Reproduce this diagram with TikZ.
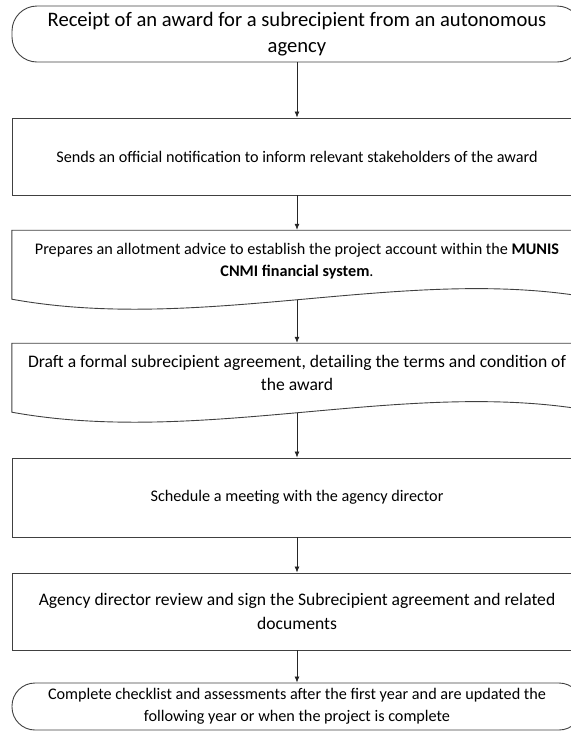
\documentclass[tikz,border=0pt]{standalone}
\usepackage{fontspec}
\setmainfont{Carlito}
\usetikzlibrary{arrows.meta}

\begin{document}
\begin{tikzpicture}[x=1pt, y=-1pt]
\tikzset{every node/.style={align=center, inner sep=0pt}}
\tikzset{shapeline/.style={draw=black!75, line width=0.9pt}}
\tikzset{term/.style={shapeline, rounded corners=25pt, minimum width=570pt}}
\tikzset{procbox/.style={shapeline, minimum width=570pt}}
\tikzset{docbox/.style={minimum width=570pt}}
\tikzset{smalltext/.style={font=\fontsize{16.2}{22}\selectfont}}
\tikzset{bigtext/.style={font=\fontsize{17.6}{23.5}\selectfont}}
\tikzset{arr/.style={draw=black!85, line width=0.8pt, -{Latex[length=6pt, width=5pt]}}}
\useasboundingbox (0,0) rectangle (571,732);
\clip (0,0) rectangle (571,732);
% terminators and process boxes
\node[term, minimum height=56pt, font=\fontsize{20.6}{25.5}\selectfont] (receipt) at (297,34)
  {Receipt of an award for a subrecipient from an autonomous\\agency};
\node[procbox, smalltext, minimum height=77pt] (notify) at (297,156.5)
  {Sends an official notification to inform relevant stakeholders of the award};
\node[docbox, minimum height=69pt] (allot) at (297,264.5) {};
\node[smalltext] at (297,261) {Prepares an allotment advice to establish the project account within the \textbf{MUNIS}\\\textbf{CNMI financial system}.};
\node[docbox, minimum height=69pt] (draft) at (297,377.5) {};
\node[bigtext] at (297,373) {Draft a formal subrecipient agreement, detailing the terms and condition of\\the award};
\node[procbox, smalltext, minimum height=79pt] (meeting) at (297,497.5)
  {Schedule a meeting with the agency director};
\node[procbox, bigtext, minimum height=77pt] (review) at (297,611.5)
  {Agency director review and sign the Subrecipient agreement and related\\documents};
\node[term, rounded corners=23pt, smalltext, minimum height=47pt] (checklist) at (297,706.5)
  {Complete checklist and assessments after the first year and are updated the\\following year or when the project is complete};
% document shapes with wavy bottom
\foreach \doc in {allot, draft} {
  \draw[shapeline, shift={(\doc.south west)}] (0,0) -- (0,-69) -- (570,-69) -- (570,-3)
    .. controls (388,-32) and (188,34) .. cycle;
}
% connectors
\draw[arr] (receipt) -- (notify);
\draw[arr] (notify) -- (allot);
\draw[arr] ([yshift=-1pt]allot.south) -- (draft);
\draw[arr] ([yshift=-1pt]draft.south) -- (meeting);
\draw[arr] (meeting) -- (review);
\draw[arr] (review) -- (checklist);
\end{tikzpicture}
\end{document}
